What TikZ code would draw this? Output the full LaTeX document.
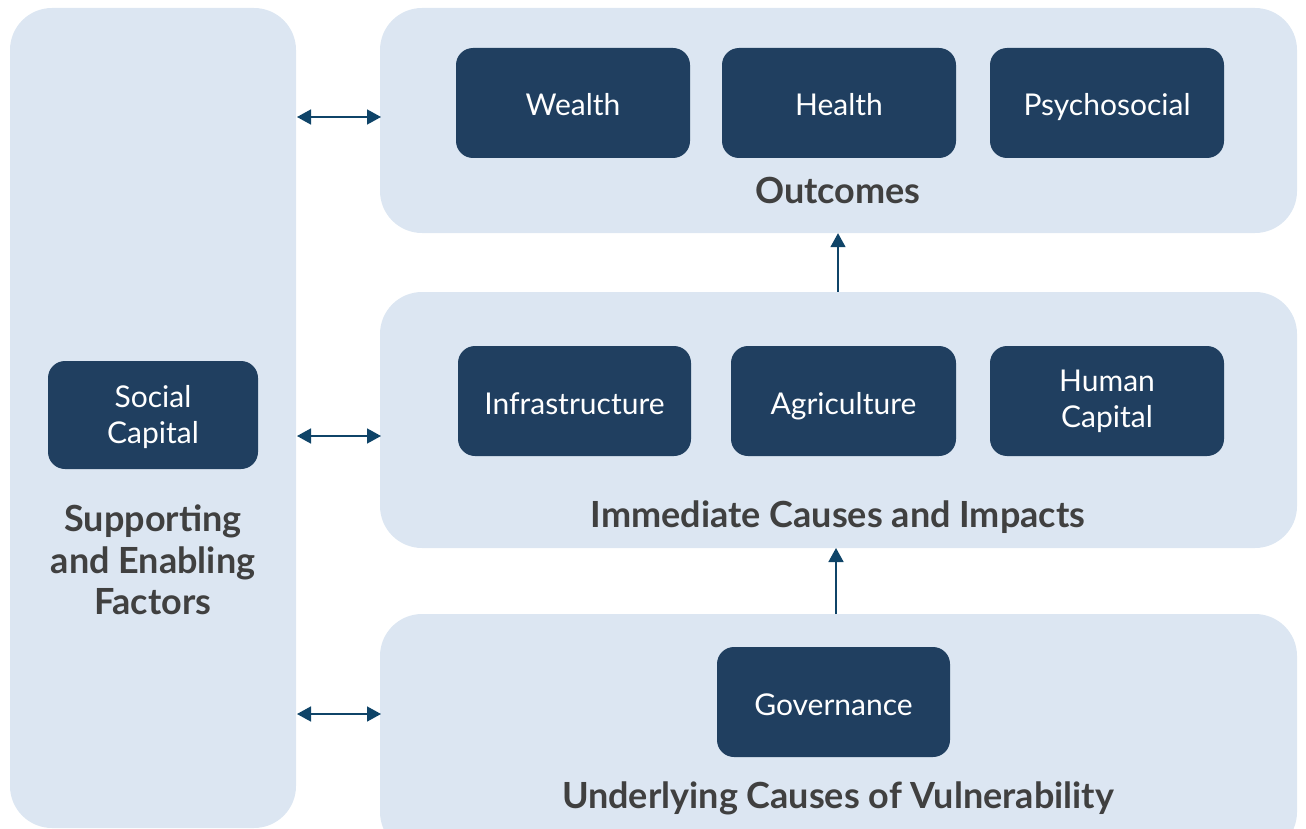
\documentclass[tikz,border=0pt]{standalone}
\usepackage{fontspec}
\setmainfont{Lato}
\usetikzlibrary{arrows.meta}
\definecolor{panel}{HTML}{DCE6F2}
\definecolor{darkbox}{HTML}{203F60}
\definecolor{arrowc}{HTML}{0F4468}
\definecolor{headc}{HTML}{404040}
\tikzset{
  panelbox/.style={fill=panel, draw=none, rounded corners=42pt, inner sep=0pt},
  itembox/.style={fill=darkbox, draw=none, rounded corners=17pt, text=white, align=center,
    font=\fontsize{30}{36}\selectfont, inner sep=0pt},
  oneline/.style={itembox, text height=30pt, text depth=4pt},
  heading/.style={text=headc, font=\fontsize{36}{41.5}\selectfont\bfseries, align=center, inner sep=0pt},
  link/.style={draw=arrowc, line width=1.6pt, -{Triangle[length=14pt,width=15pt]}},
  dlink/.style={draw=arrowc, line width=1.6pt, {Triangle[length=14pt,width=15pt]}-{Triangle[length=14pt,width=15pt]}}
}
\begin{document}
\begin{tikzpicture}[x=1pt,y=-1pt]
\useasboundingbox (0,0) rectangle (1306,829);
% panels
\node[panelbox, minimum width=286pt, minimum height=820pt] (support) at (153,418) {};
\node[panelbox, minimum width=917pt, minimum height=225pt] (outcomes) at (838.5,120.5) {};
\node[panelbox, minimum width=917pt, minimum height=256pt] (immediate) at (838.5,420) {};
\node[panelbox, minimum width=917pt, minimum height=240pt] (underlying) at (838.5,734) {};
% items
\node[oneline, minimum width=234pt, minimum height=110pt] (wealth) at (573,103) {Wealth};
\node[oneline, minimum width=234pt, minimum height=110pt] (health) at (839,103) {Health};
\node[oneline, minimum width=234pt, minimum height=110pt] (psycho) at (1107,103) {Psychosocial};
\node[oneline, minimum width=233pt, minimum height=110pt] (infra) at (574.5,401) {Infrastructure};
\node[oneline, minimum width=225pt, minimum height=110pt] (agri) at (843.5,401) {Agriculture};
\node[itembox, minimum width=234pt, minimum height=110pt] (human) at (1107,401) {Human\\Capital};
\node[oneline, minimum width=233pt, minimum height=110pt] (gov) at (833.5,702) {Governance};
\node[itembox, minimum width=210pt, minimum height=108pt] (social) at (153,415) {\rule{0pt}{27pt}Social\\Capital};
% headings
\node[heading] (hout) at (838,190) {Outcomes};
\node[heading] (himm) at (838,517) {Immediate Causes and Impacts};
\node[heading] (hund) at (838,798) {Underlying Causes of Vulnerability};
\node[heading] (hsup) at (153,560) {Supporting\\and Enabling\\Factors};
% connectors
\coordinate (s1) at (297,117); \coordinate (o1) at (381,117);
\coordinate (s2) at (297,436); \coordinate (o2) at (381,436);
\coordinate (s3) at (297,714); \coordinate (o3) at (381,714);
\draw[dlink] (s1) -- (o1);
\draw[dlink] (s2) -- (o2);
\draw[dlink] (s3) -- (o3);
\draw[link] (immediate.north -| hout) -- (outcomes.south -| hout);
\draw[link] (836,614) -- (836,548);
\end{tikzpicture}
\end{document}
